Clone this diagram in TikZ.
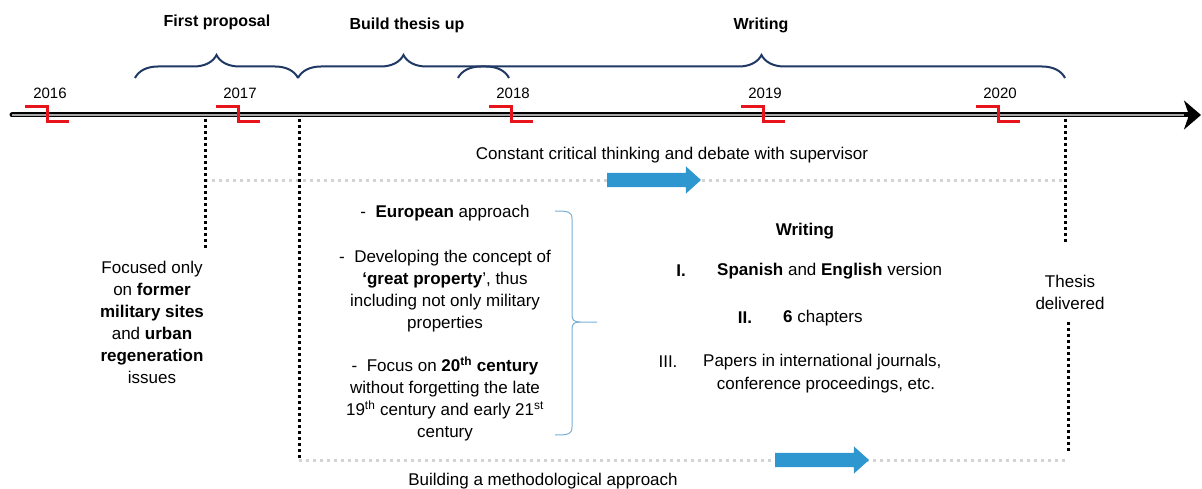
\documentclass[tikz,border=0pt]{standalone}
\usepackage{fontspec}
\setmainfont{Liberation Sans}
\usetikzlibrary{arrows.meta,decorations.pathreplacing,shapes.arrows}
\definecolor{navy}{HTML}{203864}
\definecolor{lightbrace}{HTML}{7AAFD4}
\definecolor{arrowblue}{HTML}{2E97CF}
\definecolor{dotgray}{HTML}{D3D3D3}
\definecolor{markred}{HTML}{E8141B}

\begin{document}
\begin{tikzpicture}[x=1pt,y=-1pt,
  body/.style={font=\fontsize{17}{22}\selectfont, inner sep=0pt},
  year/.style={font=\fontsize{15}{18}\selectfont, inner sep=0pt},
  phase/.style={font=\fontsize{16}{20}\selectfont\bfseries, inner sep=0pt},
  phasebrace/.style={draw=navy, line width=2pt, decorate, decoration={brace, amplitude=23pt}},
  yearmark/.style={draw=markred, line width=3pt},
  blackdots/.style={line width=3pt, dash pattern=on 3pt off 3pt},
  graydots/.style={draw=dotgray, line width=3pt, dash pattern=on 3pt off 4pt},
  bluearrow/.style={single arrow, fill=arrowblue, draw=none, minimum height=94pt,
    minimum width=27pt, inner xsep=0pt, inner ysep=7pt,
    single arrow head extend=6.5pt, single arrow tip angle=84}]
  \useasboundingbox (0,0) rectangle (1202,489);

  \coordinate (T0) at (12,115);
  \coordinate (T1) at (1201,115);
  \coordinate (T2) at (1184,115);
  \draw [line width=5pt, line cap=round, -{Stealth[length=17pt,width=29pt,inset=5pt]}] (T0) -- (T1);
  \draw [gray!70, line width=1.2pt] (T0) -- (T2);

  \draw [yearmark] (25,107) -- (47,107) -- (47,122) -- (69,122);
  \draw [yearmark] (216,107) -- (238,107) -- (238,122) -- (260,122);
  \draw [yearmark] (489,107) -- (511,107) -- (511,122) -- (533,122);
  \draw [yearmark] (741,107) -- (763,107) -- (763,122) -- (785,122);
  \draw [yearmark] (976,107) -- (998,107) -- (998,122) -- (1020,122);
  \node [year] (Y16) at (50,93) {2016};
  \node [year] (Y17) at (240,93) {2017};
  \node [year] (Y18) at (513,93) {2018};
  \node [year] (Y19) at (765,93) {2019};
  \node [year] (Y20) at (1000,93) {2020};

  \coordinate (B1a) at (135,78);
  \coordinate (B1b) at (298,78);
  \coordinate (B2b) at (509,78);
  \coordinate (B3a) at (458,78);
  \coordinate (B3b) at (1065,78);
  \draw [phasebrace] (B1a) -- (B1b);
  \draw [phasebrace] (B1b) -- (B2b);
  \draw [phasebrace] (B3a) -- (B3b);
  \node [phase] (P1) at (217,22) {First proposal};
  \node [phase] (P2) at (407,25) {Build thesis up};
  \node [phase] (P3) at (761,25) {Writing};

  \coordinate (G1a) at (205,181);
  \coordinate (G1b) at (1065,181);
  \coordinate (G2a) at (299,460);
  \coordinate (G2b) at (1065,460);
  \draw [graydots] (G1a) -- (G1b);
  \draw [graydots] (G2a) -- (G2b);

  \coordinate (D1a) at (205,119);
  \coordinate (D1b) at (205,250);
  \coordinate (D2a) at (299,119);
  \coordinate (D2b) at (299,458);
  \coordinate (D3a) at (1065,119);
  \coordinate (D3b) at (1065,242);
  \coordinate (D4a) at (1068,322);
  \coordinate (D4b) at (1068,452);
  \draw [blackdots] (D1a) -- (D1b);
  \draw [blackdots] (D2a) -- (D2b);
  \draw [blackdots] (D3a) -- (D3b);
  \draw [blackdots] (D4a) -- (D4b);

  \node [bluearrow] (A1) at (650,180) {};
  \node [bluearrow] (A2) at (818,460) {};

  \node [body] (supervisor) at (672,155) {Constant critical thinking and debate with supervisor};
  \node [body] (method) at (543,481) {Building a methodological approach};

  \node [body, align=center] (focus) at (152,322) {Focused only\\on \textbf{former}\\\textbf{military sites}\\and \textbf{urban}\\\textbf{regeneration}\\issues};

  \node [body, align=center] (approach) at (445,323) {-\ \ \textbf{European} approach\\[23pt]
    -\ \ Developing the concept of\\\textbf{‘great property}’, thus\\including not only military\\properties\\[21pt]
    -\ \ Focus on \textbf{20\textsuperscript{th} century}\\without forgetting the late\\19\textsuperscript{th} century and early 21\textsuperscript{st}\\century};

  \draw [lightbrace, line width=1pt] (555,211) .. controls (569,211) and (572,212) .. (572,219) -- (572,315) .. controls (572,320) and (574,322) .. (580,322) -- (597,322);
  \draw [lightbrace, line width=1pt] (555,435) .. controls (569,435) and (572,434) .. (572,427) -- (572,329) .. controls (572,324) and (574,322) .. (580,322);

  \node [body] (writing) at (805,231) {\textbf{Writing}};
  \node [body] (N1) at (681,271) {\textbf{I.}};
  \node [body, anchor=west] (S1) at (717,271) {\textbf{Spanish} and \textbf{English} version};
  \node [body] (N2) at (745,318) {\textbf{II.}};
  \node [body, anchor=west] (S2) at (783,318) {\textbf{6} chapters};
  \node [body] (N3) at (668,362) {III.};
  \node [body, anchor=west] (S3) at (703,362) {Papers in international journals,};
  \node [body] (S3b) at (826,385) {conference proceedings, etc.};

  \node [body, align=center] (delivered) at (1070,292) {Thesis\\delivered};
\end{tikzpicture}
\end{document}
